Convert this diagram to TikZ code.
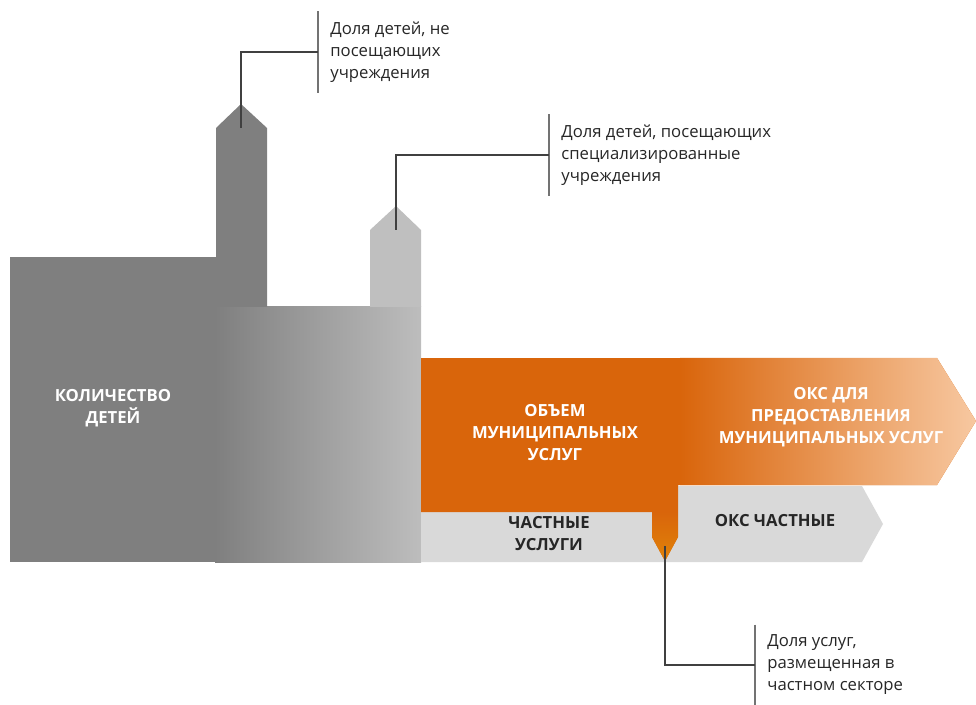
\documentclass[tikz,border=0pt]{standalone}
\usepackage{fontspec}
\setmainfont{Open Sans}
\usetikzlibrary{positioning, calc}
\definecolor{towerdark}{HTML}{7F7F7F}
\definecolor{towerlight}{HTML}{BFBFBF}
\definecolor{boxright}{HTML}{BDBDBD}
\definecolor{munorange}{HTML}{D9650B}
\definecolor{munpeach}{HTML}{F7C8A1}
\definecolor{privgray}{HTML}{D9D9D9}
\definecolor{leadergray}{HTML}{404040}
\tikzset{
	caps/.style={
		font=\bfseries\fontsize{9.5}{12.5}\selectfont,
		align=center,
		inner sep=0pt
	},
	callout/.style={
		anchor=west,
		align=left,
		inner xsep=0.24cm,
		inner ysep=0.2cm,
		font=\fontsize{9.5}{12.5}\selectfont,
		text=black!85
	},
	leader/.style={
		draw=leadergray,
		line width=0.6pt
	},
	calloutbar/.style={
		draw=black!55,
		line width=0.6pt
	}
}
\begin{document}
\begin{tikzpicture}[x=0.02cm, y=-0.02cm]
	\useasboundingbox (0,0) rectangle (976,705);

	% children block and towers
	\shade[left color=towerdark, right color=boxright] (215,307) rectangle (421,562);
	\fill[towerdark] (10,257) rectangle (216,562);
	\fill[towerdark] (216,307) -- (216,128) -- (241,104) -- (267,128) -- (267,307) -- cycle;
	\fill[towerlight] (370,307) -- (370,230) -- (396,206) -- (421,230) -- (421,307) -- cycle;

	% private services
	\fill[privgray] (421,512) -- (678,512) -- (678,486) -- (862,486) -- (883,524) -- (862,562) -- (421,562) -- cycle;

	% municipal services
	\begin{scope}
		\clip (421,358) -- (937,358) -- (976,421) -- (937,485) -- (678,485) -- (678,537)
			-- (665,561) -- (652,537) -- (652,512) -- (421,512) -- cycle;
		\fill[munorange] (421,358) rectangle (976,562);
		\shade[left color=munorange, right color=munpeach] (680,358) rectangle (976,486);
		\shade[top color=munorange, bottom color=munorange!80!yellow] (652,512) rectangle (678,562);
	\end{scope}

	% block labels
	\node[caps, text=white] (kids) at (113,408) {КОЛИЧЕСТВО\\ДЕТЕЙ};
	\node[caps, text=white] (volume) at (555,433) {ОБЪЕМ\\МУНИЦИПАЛЬНЫХ\\УСЛУГ};
	\node[caps, text=white] (oksmun) at (831,417) {ОКС ДЛЯ\\ПРЕДОСТАВЛЕНИЯ\\МУНИЦИПАЛЬНЫХ УСЛУГ};
	\node[caps, text=black!85] (privserv) at (549,534) {ЧАСТНЫЕ\\УСЛУГИ};
	\node[caps, text=black!85] (okspriv) at (775,521) {ОКС ЧАСТНЫЕ};

	% callouts
	\coordinate (tallpeak) at (241,128);
	\coordinate (shortpeak) at (396,230);
	\coordinate (drip) at (665,546);

	\node[callout] (notattend) at (318,52) {Доля детей, не\\посещающих\\учреждения};
	\node[callout] (special) at (549,155) {Доля детей, посещающих\\специализированные\\учреждения};
	\node[callout] (privshare) at (755,665) {Доля услуг,\\размещенная в\\частном секторе};

	\foreach \txt in {notattend, special, privshare} {
		\draw[calloutbar] (\txt.north west) -- (\txt.south west);
	}

	\draw[leader] (tallpeak) |- (notattend.west);
	\draw[leader] (shortpeak) |- (special.west);
	\draw[leader] (drip) |- (privshare.west);
\end{tikzpicture}
\end{document}
